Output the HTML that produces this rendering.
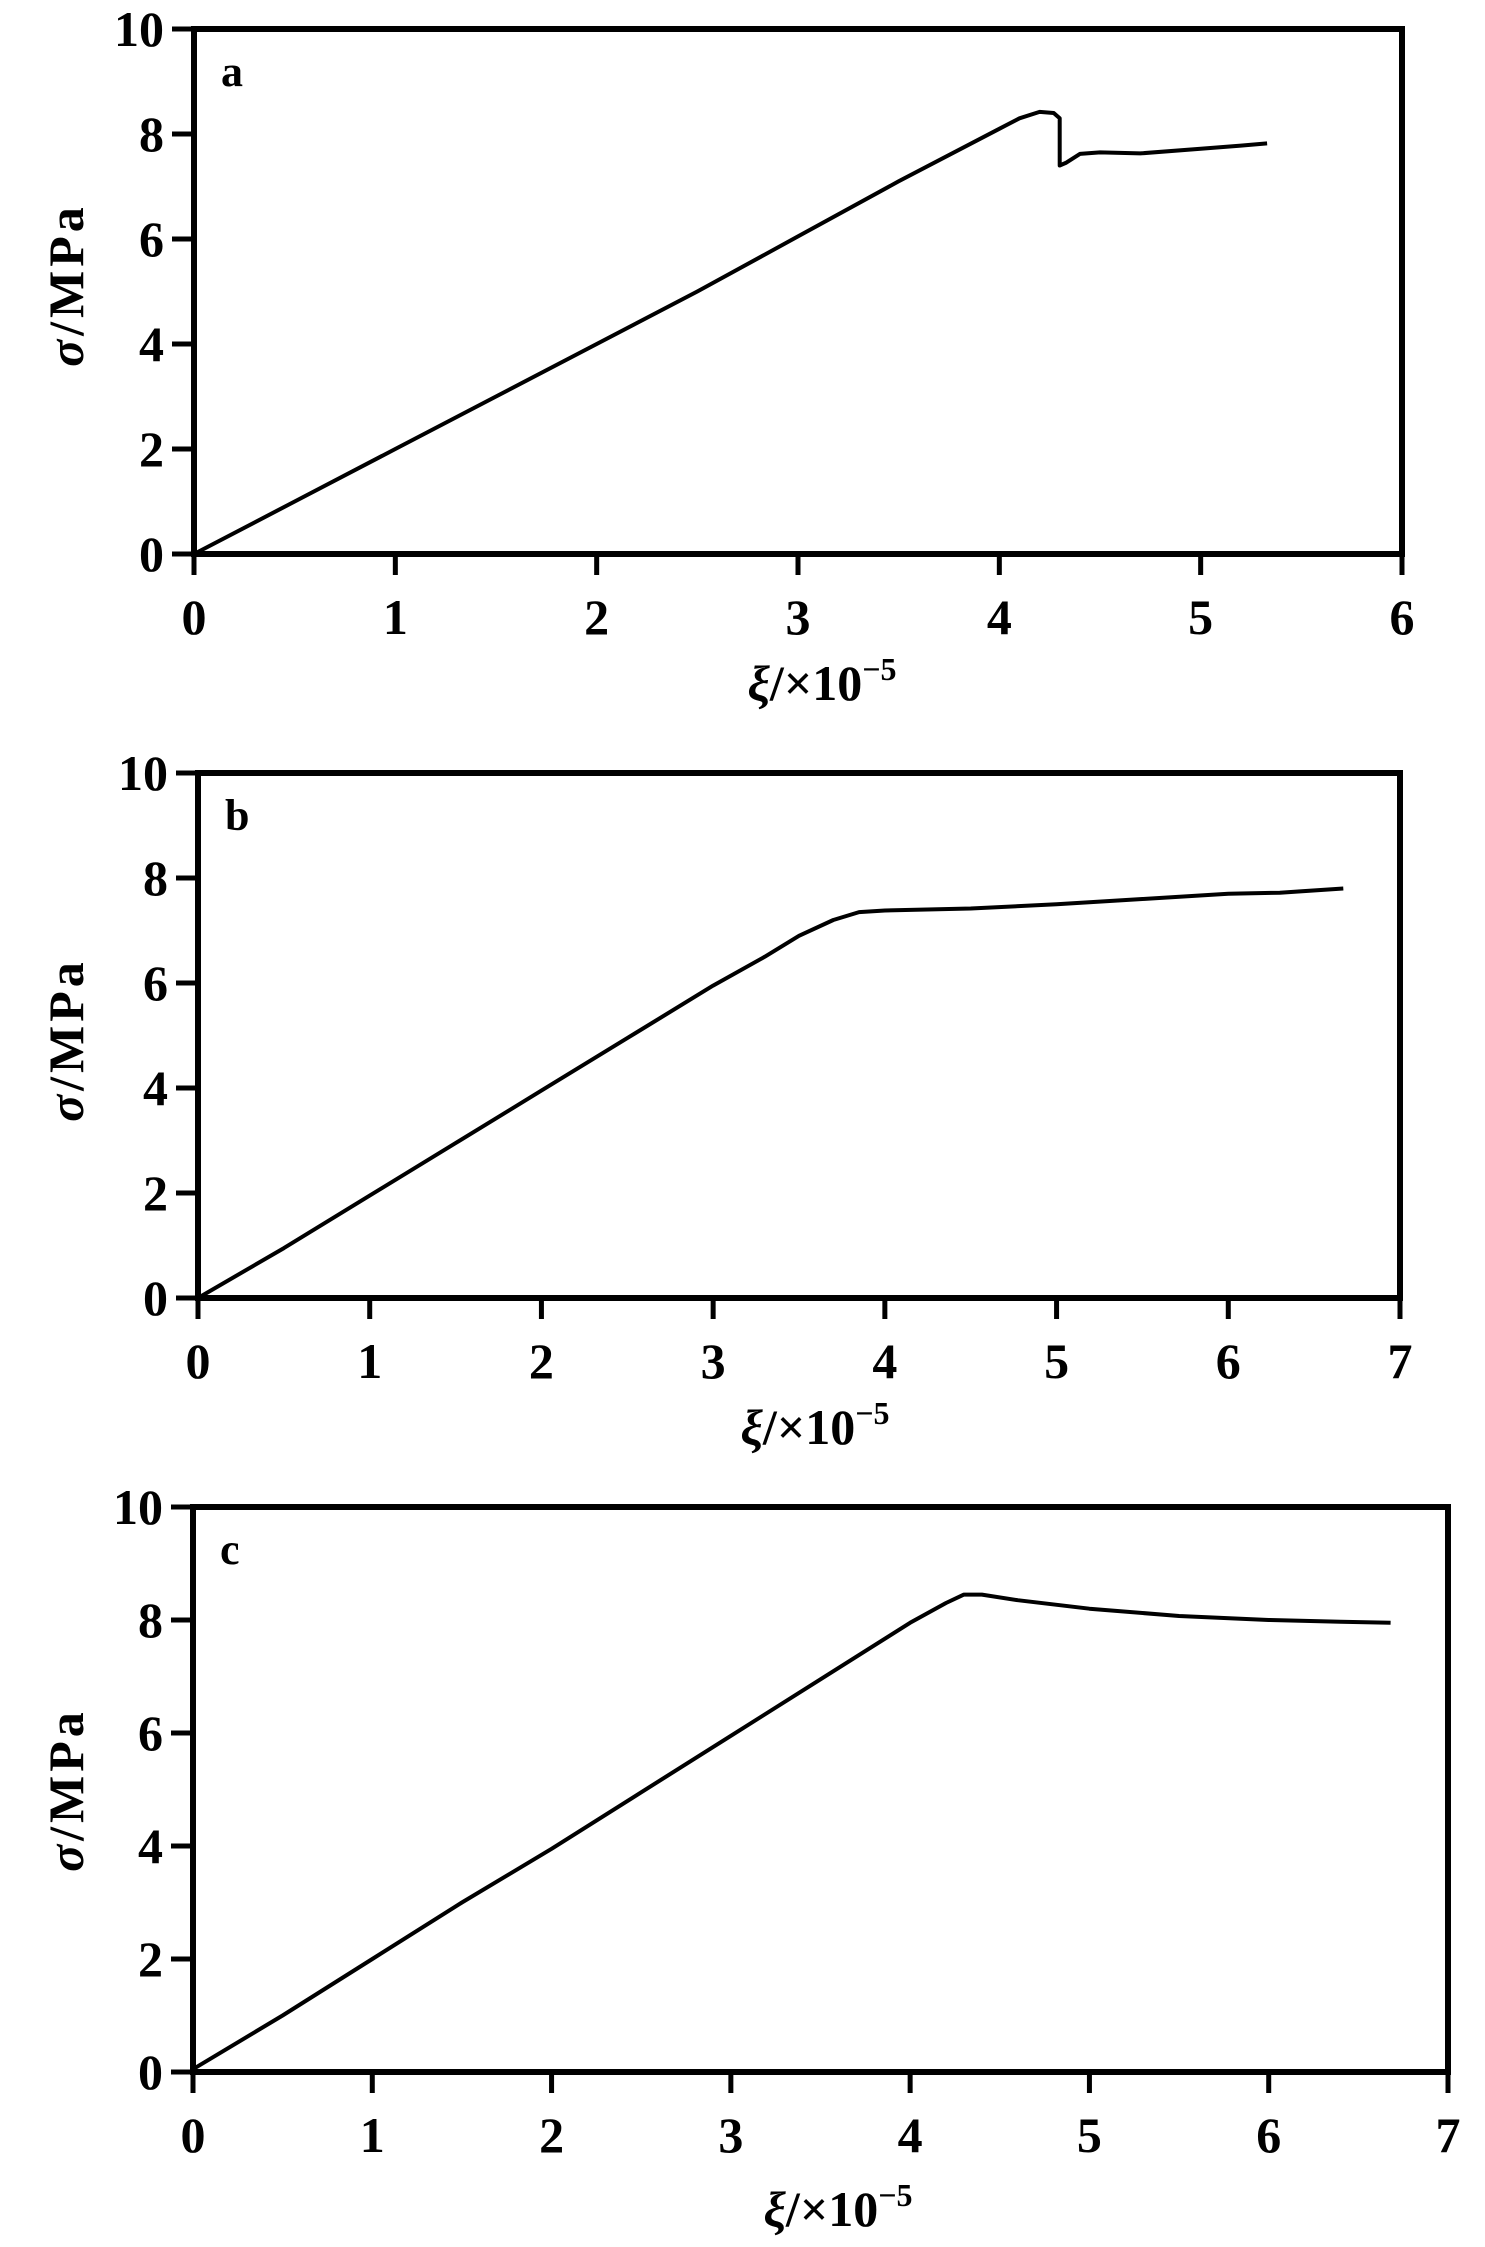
<!DOCTYPE html>
<html><head><meta charset="utf-8"><style>
html,body{margin:0;padding:0;background:#fff;}
svg{display:block;}
text{font-family:"Liberation Serif",serif;font-weight:bold;fill:#000;}
</style></head><body>
<svg id="fig" width="1485" height="2247" viewBox="0 0 1485 2247" xmlns="http://www.w3.org/2000/svg"></svg>
<script>
const yTicks = [0,2,4,6,8,10];
const xTicksA = [0,1,2,3,4,5,6];
const xTicksB = [0,1,2,3,4,5,6,7];
const xTicksC = [0,1,2,3,4,5,6,7];
const strainA = [0,0.5,1,1.5,2,2.5,3,3.5,4.0,4.1,4.2,4.27,4.3,4.3,4.33,4.4,4.5,4.7,5.0,5.2,5.33];
const stressA = [0,1.0,2.0,3.0,4.0,5.0,6.05,7.1,8.1,8.3,8.42,8.4,8.3,7.4,7.45,7.62,7.65,7.63,7.72,7.78,7.82];
const strainB = [0,0.5,1,1.5,2,2.5,3,3.3,3.5,3.7,3.85,4.0,4.5,5.0,5.5,6.0,6.3,6.67];
const stressB = [0,0.95,1.95,2.95,3.95,4.95,5.95,6.5,6.9,7.2,7.35,7.38,7.42,7.5,7.6,7.7,7.72,7.8];
const strainC = [0,0.5,1,1.5,2,2.5,3,3.5,4.0,4.2,4.3,4.4,4.6,5.0,5.5,6.0,6.4,6.68];
const stressC = [0.05,1.0,2.0,3.0,3.95,4.95,5.95,6.95,7.95,8.3,8.45,8.45,8.35,8.2,8.07,8.0,7.97,7.95];

const svg = document.getElementById('fig');
const NS = 'http://www.w3.org/2000/svg';
function mk(tag, attrs){const e=document.createElementNS(NS,tag);for(const k in attrs)e.setAttribute(k,attrs[k]);svg.appendChild(e);return e;}

function panel(id, L, R, T, B, xmax, xTicks, xs, ys, letter, xTitleY, xTitleX, yTitleY){
  const xs_ = v => L + (R-L)*v/xmax;
  const ys_ = v => B - (B-T)*v/10;
  const frame = mk('rect',{x:L,y:T,width:R-L,height:B-T,fill:'none',stroke:'#000','stroke-width':6});
  
  
  yTicks.forEach(v=>{
    const t = mk('line',{x1:L-22,x2:L,y1:ys_(v),y2:ys_(v),stroke:'#000','stroke-width':5});
    
    
    const lb = mk('text',{x:L-30,y:ys_(v)+17,'text-anchor':'end','font-size':50});
    lb.textContent = v;
    
    
  });
  xTicks.forEach(v=>{
    const t = mk('line',{x1:xs_(v),x2:xs_(v),y1:B,y2:B+21,stroke:'#000','stroke-width':5});
    
    
    const lb = mk('text',{x:xs_(v),y:B+80,'text-anchor':'middle','font-size':50});
    lb.textContent = v;
    
    
  });
  const d = xs.map((x,i)=>(i?'L':'M')+xs_(x).toFixed(1)+' '+ys_(ys[i]).toFixed(1)).join(' ');
  const p = mk('path',{d:d,fill:'none',stroke:'#000','stroke-width':4,'stroke-linejoin':'round'});
  
  
  const lt = mk('text',{x:L+27,y:T+57,'font-size':44});
  lt.textContent = letter;
  
  
  const xt = mk('text',{x:xTitleX,y:xTitleY,'text-anchor':'middle','font-size':50});
  xt.innerHTML = '<tspan font-style="italic">ξ</tspan>/×10<tspan font-size="32" dy="-20">−5</tspan>';
  
  
  const yt = mk('text',{x:0,y:0,'text-anchor':'middle','font-size':50,'letter-spacing':4,transform:'translate(83,'+yTitleY+') rotate(-90)'});
  yt.innerHTML = '<tspan font-style="italic">σ</tspan>/MPa';
  
  
}
panel('a',194,1402,29,554,6,xTicksA,strainA,stressA,'a',700,822,285);
panel('b',198,1400,773,1298,7,xTicksB,strainB,stressB,'b',1444,815,1040);
panel('c',193,1448,1507,2072,7,xTicksC,strainC,stressC,'c',2226,838,1790);
</script>
</body></html>
